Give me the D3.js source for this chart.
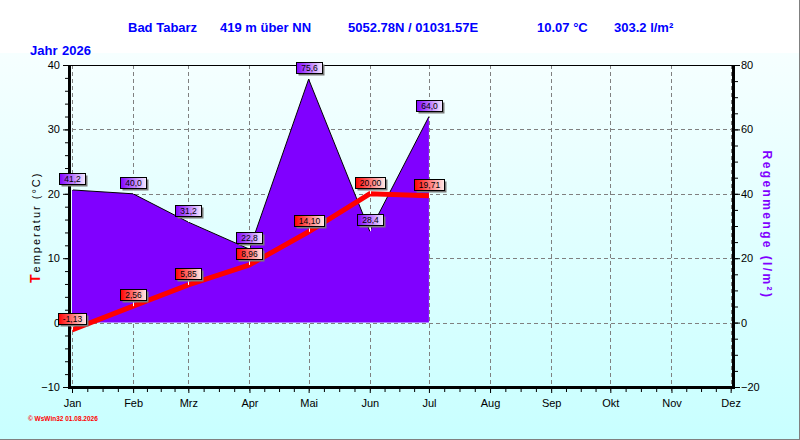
<!DOCTYPE html>
<html><head><meta charset="utf-8">
<script src="https://cdn.jsdelivr.net/npm/d3@7/dist/d3.min.js"></script>
<style>
html,body{margin:0;padding:0;background:#fff;}
svg{display:block;font-family:"Liberation Sans",Arial,sans-serif;}
</style></head>
<body>
<svg id="chart" width="800" height="440"></svg>
<script>
// ---- data ----
const months = ["Jan","Feb","Mrz","Apr","Mai","Jun","Jul","Aug","Sep","Okt","Nov","Dez"];
const dataMonths = [0,1,2,3,4,5,6];
const rain = [41.2, 40.0, 31.2, 22.8, 75.6, 28.4, 64.0];
const temp = [-1.13, 2.56, 5.85, 8.96, 14.10, 20.00, 19.71];
const tempTicks = [-10, 0, 10, 20, 30, 40];
const rainTicks = [-20, 0, 20, 40, 60, 80];
const titleParts = ["Bad Tabarz", "419 m über NN", "5052.78N / 01031.57E", "10.07 °C", "303.2 l/m²"];
const yearLabel = ["Jahr", "2026"];
const credit = "© WsWin32  01.08.2026";

const svg = d3.select("#chart");
const W = 800, H = 440;
const L = 72, R = 732.6, T = 65, B = 387;

// background
const defs = svg.append("defs");
const bg = defs.append("linearGradient").attr("id","bg").attr("x1",0).attr("y1",0).attr("x2",0).attr("y2",1);
bg.append("stop").attr("offset","0%").attr("stop-color","#f6ffff");
bg.append("stop").attr("offset","100%").attr("stop-color","#c8ffff");
function labGrad(id, c1, c2){
  const g = defs.append("linearGradient").attr("id",id).attr("x1",0).attr("y1",0).attr("x2",1).attr("y2",0);
  g.append("stop").attr("offset","0%").attr("stop-color",c1);
  g.append("stop").attr("offset","100%").attr("stop-color",c2);
}
labGrad("gRain","#8000ff","#f4ecff");
labGrad("gTemp","#ff0000","#ffecec");

svg.append("rect").attr("width",W).attr("height",H).attr("fill","#fff");
svg.append("rect").attr("x",0).attr("y",53).attr("width",W).attr("height",H-53).attr("fill","url(#bg)");
svg.append("line").attr("x1",0).attr("x2",W).attr("y1",439.5).attr("y2",439.5).attr("stroke","#808080");
svg.append("line").attr("x1",799.5).attr("x2",799.5).attr("y1",0).attr("y2",H).attr("stroke","#808080");

// scales
const monthDate = i => new Date(Date.UTC(2026, i, 1));
const x = d3.scaleUtc().domain([new Date(Date.UTC(2026,0,1)), new Date(Date.UTC(2026,11,2))]).range([L, R]);
const yT = d3.scaleLinear().domain([-10, 40]).range([B, T]);
const yR = d3.scaleLinear().domain([-20, 80]).range([B, T]);

// grid
const grid = svg.append("g").attr("stroke","#808080").attr("stroke-dasharray","4,3").attr("stroke-width",1);
months.forEach((m,i)=>{
  const xx = Math.round(x(monthDate(i)))+0.5;
  grid.append("line").attr("x1",xx).attr("x2",xx).attr("y1",T).attr("y2",B+4);
});
[0,10,20,30].forEach(v=>{
  const yy = Math.round(yT(v))+0.5;
  grid.append("line").attr("x1",L).attr("x2",R).attr("y1",yy).attr("y2",yy);
});

// rain area
const pts = dataMonths.map((m,i)=>({d:monthDate(m), r:rain[i], t:temp[i]}));
svg.append("path").datum(pts)
  .attr("d", d3.area().x(d=>x(d.d)).y0(yR(0)).y1(d=>yR(d.r)))
  .attr("fill","#8000ff");
svg.append("path").datum(pts)
  .attr("d", d3.line().x(d=>x(d.d)).y(d=>yR(d.r)))
  .attr("fill","none").attr("stroke","#000").attr("stroke-width",1);

// temperature line
svg.append("path").datum(pts)
  .attr("d", d3.line().x(d=>x(d.d)).y(d=>yT(d.t)))
  .attr("fill","none").attr("stroke","#ff0000").attr("stroke-width",5);

// axes
function style(g){ g.select(".domain").remove(); g.selectAll("text").attr("font-size","11px").attr("fill","#000").attr("font-family","Liberation Sans, Arial, sans-serif"); g.selectAll("line").attr("stroke","#000"); }
svg.append("g").attr("transform","translate(68,0)")
  .call(d3.axisLeft(yT).tickValues(d3.range(-10,41,2)).tickSize(3).tickFormat("")).call(style);
svg.append("g").attr("transform","translate(68,0)")
  .call(d3.axisLeft(yT).tickValues(tempTicks).tickSize(5).tickPadding(3).tickFormat(d3.format("d"))).call(style);
svg.append("g").attr("transform","translate(735,0)")
  .call(d3.axisRight(yR).tickValues(d3.range(-20,81,5)).tickSize(3).tickFormat("")).call(style);
svg.append("g").attr("transform","translate(735,0)")
  .call(d3.axisRight(yR).tickValues(rainTicks).tickSize(5).tickPadding(1).tickFormat(d3.format("d"))).call(style);
const minorX = [];
for(let i=0;i<12;i++){ const a=+monthDate(i), b=+monthDate(i+1); for(let k=1;k<4;k++) minorX.push(new Date(a+(b-a)*k/4)); }
svg.append("g").attr("transform","translate(0,389)")
  .call(d3.axisBottom(x).tickValues(minorX.filter(d=>x(d)<R)).tickSize(3).tickFormat("")).call(style);
svg.append("g").attr("transform","translate(0,389)")
  .call(d3.axisBottom(x).tickValues(months.map((m,i)=>monthDate(i))).tickSize(4).tickPadding(6).tickFormat((d,i)=>months[i])).call(style);

// frame
svg.append("line").attr("x1",68).attr("x2",735).attr("y1",T+0.5).attr("y2",T+0.5).attr("stroke","#000");
svg.append("line").attr("x1",69.5).attr("x2",69.5).attr("y1",T).attr("y2",389).attr("stroke","#000").attr("stroke-width",3);
svg.append("line").attr("x1",733.5).attr("x2",733.5).attr("y1",T).attr("y2",389).attr("stroke","#000").attr("stroke-width",3);
svg.append("line").attr("x1",68).attr("x2",735).attr("y1",387.5).attr("y2",387.5).attr("stroke","#000").attr("stroke-width",3);

// labels (drawn over axes)
function label(px, py, txt, grad){
  const g = svg.append("g");
  const t = g.append("text").attr("font-size","8.5px").attr("text-anchor","middle").text(txt);
  const tw = t.node().getComputedTextLength();
  const w = Math.round(tw + 9), h = 11;
  const bx = Math.round(px - w/2) + 0.5, by = Math.round(py - 6 - h) + 0.5;
  g.insert("line","text").attr("x1",Math.round(px)+0.5).attr("x2",Math.round(px)+0.5).attr("y1",by+h).attr("y2",py).attr("stroke","#fff");
  g.insert("rect","text").attr("x",bx+2).attr("y",by+2).attr("width",w).attr("height",h).attr("fill","#7a7a7a");
  g.insert("rect","text").attr("x",bx).attr("y",by).attr("width",w).attr("height",h).attr("fill","url(#"+grad+")").attr("stroke","#000");
  t.attr("x", bx + w/2).attr("y", by + 8.7).attr("fill","#000");
}
pts.forEach(d=>label(x(d.d), yR(d.r), d.r.toFixed(1).replace(".",","), "gRain"));
pts.forEach(d=>label(x(d.d), yT(d.t), d.t.toFixed(2).replace(".",","), "gTemp"));

// title
const tx = [128, 220, 348, 537, 614];
titleParts.forEach((s,i)=>svg.append("text").attr("x",tx[i]).attr("y",32).attr("font-size","13px").attr("font-weight","bold").attr("fill","#0000ff").text(s));
svg.append("text").attr("x",30).attr("y",55).attr("font-size","13px").attr("font-weight","bold").attr("fill","#0000ff").text(yearLabel[0]);
svg.append("text").attr("x",62).attr("y",55).attr("font-size","13px").attr("font-weight","bold").attr("fill","#0000ff").text(yearLabel[1]);

// axis titles
const lt = svg.append("text").attr("transform","translate(40,283) rotate(-90)").attr("text-anchor","start");
lt.append("tspan").attr("font-size","14px").attr("font-weight","bold").attr("fill","#ff0000").text("T");
lt.append("tspan").attr("font-size","11px").attr("fill","#000").attr("letter-spacing","2px").attr("dx","2").text("emperatur (°C)");
svg.append("text").attr("transform","translate(767,225) rotate(90)").attr("text-anchor","middle")
  .attr("dominant-baseline","central").attr("font-size","12px").attr("font-weight","bold")
  .attr("fill","#8000ff").attr("letter-spacing","2.4px").text("Regenmenge (l/m²)");

// credit
svg.append("text").attr("x",28).attr("y",421).attr("font-size","6.5px").attr("font-weight","bold").attr("fill","#ff0000").text(credit);
</script>
</body></html>
